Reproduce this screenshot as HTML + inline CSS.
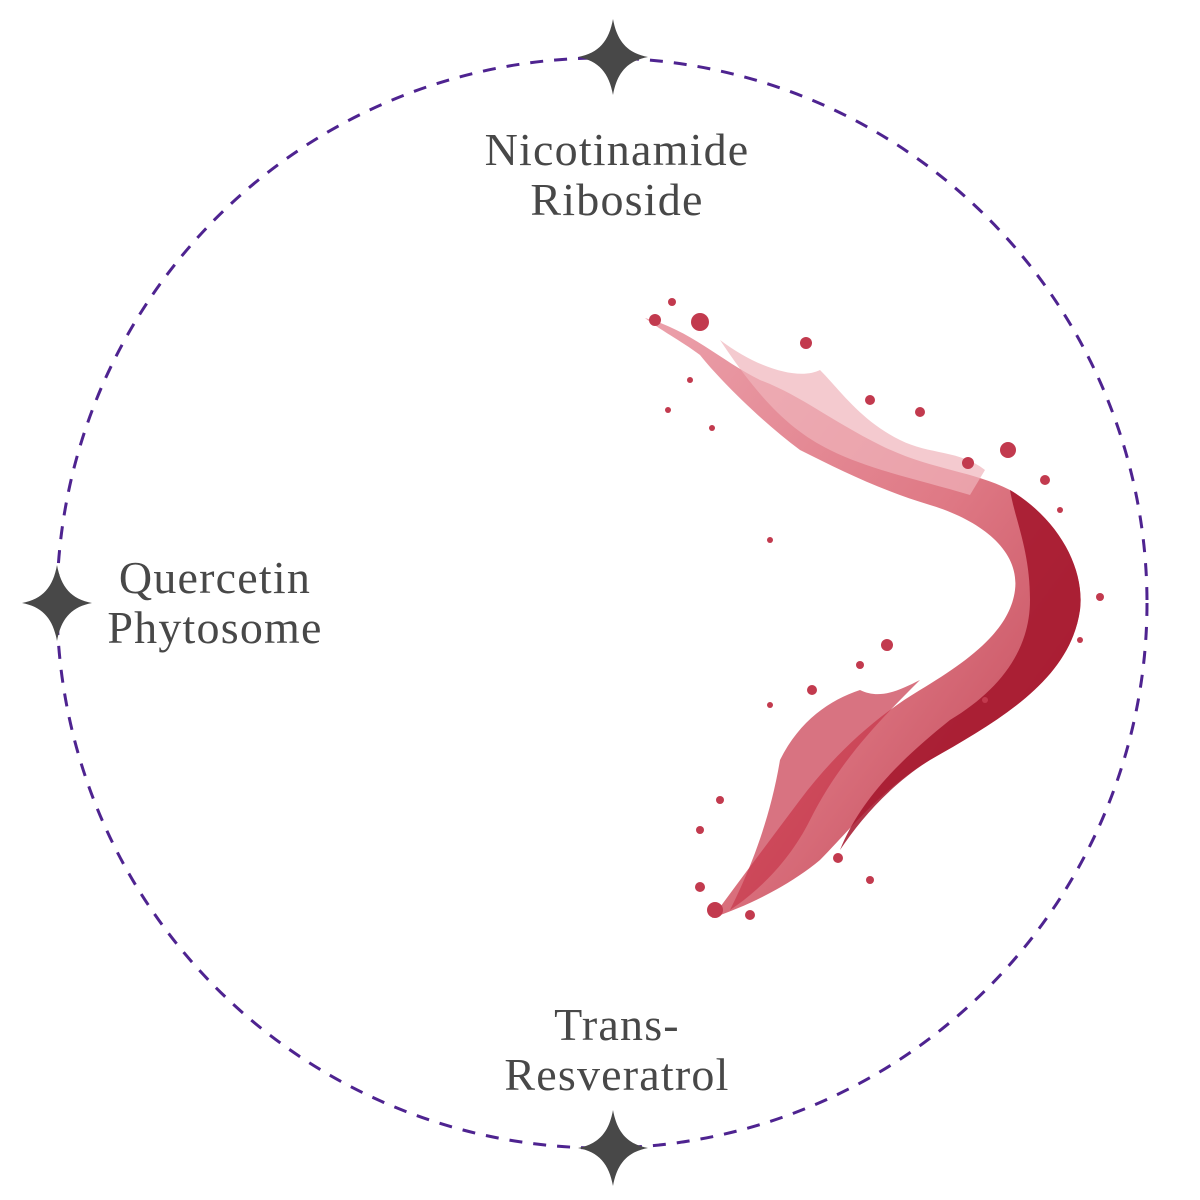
<!DOCTYPE html>
<html><head><meta charset="utf-8"><style>
html,body{margin:0;padding:0;background:#fff;}
.t{position:absolute;font-family:"Liberation Serif",serif;color:#484848;font-size:46px;line-height:50px;text-align:center;letter-spacing:1.2px;}
</style></head><body>
<div style="position:relative;width:1200px;height:1200px;overflow:hidden;">
<svg width="1200" height="1200" style="position:absolute;left:0;top:0">
<defs>
<linearGradient id="g" x1="0" y1="0" x2="1" y2="1">
<stop offset="0" stop-color="#e8909c"/><stop offset="0.5" stop-color="#d9616f"/><stop offset="1" stop-color="#b01c30"/>
</linearGradient>
<path id="st" d="M0,-38 C4,-16 14,-4 35,0 C14,4 4,16 0,38 C-4,16 -14,4 -35,0 C-14,-4 -4,-16 0,-38Z" fill="#484848"/>
</defs>
<circle cx="602" cy="603" r="545" fill="none" stroke="#4e2390" stroke-width="3" stroke-dasharray="13 11"/>
<use href="#st" x="613" y="57"/>
<use href="#st" x="57" y="603"/>
<use href="#st" x="613" y="1148"/>
<path d="M645,318 C690,330 720,360 760,380 C800,395 830,420 880,445 C930,470 970,470 1010,490 C1060,520 1085,570 1080,610 C1070,680 1000,720 930,760 C880,790 850,830 820,860 C790,885 750,905 712,918 C740,880 770,840 800,800 C830,760 870,720 920,690 C970,660 1010,630 1015,590 C1020,550 980,520 930,505 C880,490 840,470 800,450 C760,420 720,380 700,355 C680,340 660,330 645,318Z" fill="url(#g)" opacity="0.85"/>
<path d="M1010,490 C1060,520 1085,570 1080,610 C1070,680 1000,720 930,760 C890,785 860,820 840,850 C860,800 900,760 950,720 C1000,690 1030,650 1030,600 C1030,550 1015,520 1010,490Z" fill="#a3142a" opacity="0.85"/>
<path d="M720,340 C760,370 800,380 820,370 C840,390 860,420 900,440 C930,455 960,450 985,470 L970,495 C920,480 870,470 830,450 C790,430 760,400 720,340Z" fill="#f0b3bb" opacity="0.7"/>
<path d="M780,760 C800,720 830,700 860,690 C880,700 900,690 920,680 C880,720 840,760 810,820 C790,860 760,890 730,910 C750,870 770,820 780,760Z" fill="#c8384c" opacity="0.7"/>
<g fill="#c23a4e">
<circle cx="700" cy="322" r="9"/><circle cx="672" cy="302" r="4"/><circle cx="655" cy="320" r="6"/><circle cx="806" cy="343" r="6"/>
<circle cx="870" cy="400" r="5"/><circle cx="920" cy="412" r="5"/><circle cx="968" cy="463" r="6"/><circle cx="1008" cy="450" r="8"/>
<circle cx="1045" cy="480" r="5"/><circle cx="1100" cy="597" r="4"/><circle cx="887" cy="645" r="6"/><circle cx="860" cy="665" r="4"/>
<circle cx="812" cy="690" r="5"/><circle cx="770" cy="705" r="3"/><circle cx="720" cy="800" r="4"/><circle cx="700" cy="830" r="4"/>
<circle cx="700" cy="887" r="5"/><circle cx="715" cy="910" r="8"/><circle cx="750" cy="915" r="5"/><circle cx="838" cy="858" r="5"/>
<circle cx="870" cy="880" r="4"/><circle cx="668" cy="410" r="3"/><circle cx="712" cy="428" r="3"/><circle cx="770" cy="540" r="3"/>
<circle cx="985" cy="700" r="3"/><circle cx="1080" cy="640" r="3"/><circle cx="1060" cy="510" r="3"/><circle cx="690" cy="380" r="3"/>
</g>
</svg>
<div class="t" style="left:417px;top:125px;width:400px;">Nicotinamide<br>Riboside</div>
<div class="t" style="left:15px;top:553px;width:400px;">Quercetin<br>Phytosome</div>
<div class="t" style="left:417px;top:1000px;width:400px;">Trans-<br>Resveratrol</div>
</div>
</body></html>
